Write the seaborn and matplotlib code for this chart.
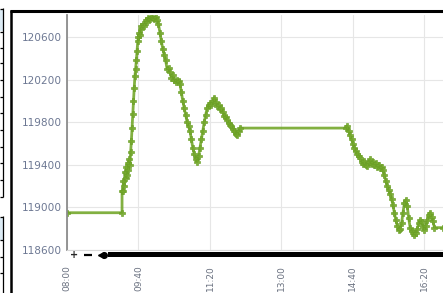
import matplotlib
matplotlib.use("Agg")
import matplotlib.pyplot as plt
from matplotlib.lines import Line2D
from matplotlib.patches import Rectangle
import seaborn as sns
import pandas as pd

# minutes after 08:00 and price values
minutes = [0, 77, 77, 78, 79, 80, 81, 82, 83, 84, 85, 86, 87, 88, 89, 90, 91, 92, 93, 94,
           95, 96, 97, 98, 99, 100, 101, 102, 103, 104, 106, 108, 110, 112, 114, 116, 118,
           120, 122, 124, 126, 128, 130, 132, 134, 136, 138, 140, 142, 144, 146, 148, 150,
           152, 154, 156, 158, 160, 162, 164, 166, 168, 170, 172, 174, 176, 178, 180, 182,
           184, 186, 188, 190, 192, 194, 196, 198, 200, 202, 204, 206, 208, 210, 212, 214,
           216, 218, 220, 222, 224, 226, 228, 230, 232, 234, 236, 238, 240, 242,
           391, 392, 394, 396, 398, 400, 402, 404, 406, 408, 410, 412, 414, 416, 418, 420,
           422, 424, 426, 428, 430, 432, 434, 436, 438, 440, 442, 444, 446, 448, 450, 452,
           454, 456, 458, 460, 462, 464, 466, 468, 470, 472, 474, 476, 478, 480, 482, 484,
           486, 488, 490, 492, 494, 496, 498, 500, 502, 504, 506, 508, 510, 512, 514, 526]
prices = [118950, 118950, 119150, 119150, 119250, 119200, 119330, 119280, 119380, 119300,
          119420, 119350, 119450, 119400, 119520, 119620, 119750, 119880, 120000, 120120,
          120230, 120300, 120380, 120470, 120560, 120600, 120640, 120620, 120680, 120700,
          120720, 120700, 120760, 120740, 120780, 120770, 120790, 120780, 120770, 120790,
          120760, 120720, 120640, 120560, 120490, 120430, 120380, 120300, 120310, 120270,
          120220, 120240, 120200, 120180, 120200, 120190, 120160, 120080, 120000, 119930,
          119870, 119800, 119760, 119720, 119640, 119560, 119500, 119450, 119430, 119480,
          119560, 119640, 119720, 119800, 119870, 119930, 119960, 119980, 119960, 120000,
          120030, 119990, 119950, 119960, 119920, 119930, 119900, 119860, 119850, 119820,
          119790, 119770, 119760, 119740, 119720, 119690, 119680, 119720, 119745,
          119745, 119760, 119720, 119680, 119640, 119600, 119560, 119530, 119500, 119480,
          119460, 119430, 119410, 119440, 119400, 119390, 119430, 119450, 119410, 119430,
          119400, 119420, 119380, 119400, 119370, 119380, 119350, 119300, 119250, 119200,
          119160, 119130, 119080, 119020, 118950, 118880, 118830, 118790, 118800, 118850,
          118950, 119040, 119070, 119010, 118900, 118810, 118780, 118760, 118740, 118760,
          118800, 118850, 118880, 118860, 118820, 118790, 118830, 118880, 118930, 118950,
          118910, 118870, 118810, 118810]

tick_minutes = [0, 100, 200, 300, 400, 500]
tick_labels = ["08:00", "09:40", "11:20", "13:00", "14:40", "16:20"]
y_ticks = [118600, 119000, 119400, 119800, 120200, 120600]

df = pd.DataFrame({"minute": minutes, "price": prices})

sns.set_style("white")
plt.rcParams["font.family"] = ["DejaVu Sans"]

W, H = 443, 293
fig = plt.figure(figsize=(W / 100, H / 100), dpi=100)
ax = fig.add_axes([67 / W, 1 - 250 / H, (443 - 67) / W, (250 - 15) / H])

sns.lineplot(data=df, x="minute", y="price", ax=ax, estimator=None, sort=False,
             color="#74a82c", linewidth=2.0, marker="P", markersize=4.6,
             markeredgewidth=0.5, markeredgecolor="#6a9f25", alpha=0.9)

ax.set_xlim(0, 526)
ax.set_ylim(118600, 120807)
ax.set_xticks(tick_minutes)
ax.set_xticklabels(tick_labels, rotation=90, fontsize=6.5, color="#6a7180")
ax.set_yticks(y_ticks)
ax.set_yticklabels([str(v) for v in y_ticks], fontsize=7.6, color="#6d7893")
ax.tick_params(axis="x", length=0, pad=11)
ax.tick_params(axis="y", length=0, pad=3.5)
ax.set_xlabel("")
ax.set_ylabel("")
ax.grid(True, color="#e6e6e6", linewidth=0.8)
ax.set_axisbelow(True)
for s in ["top", "right"]:
    ax.spines[s].set_visible(False)
ax.spines["left"].set_color("#8c8c8c")
ax.spines["left"].set_linewidth(1.3)
ax.spines["bottom"].set_color("#d8d8d8")
ax.spines["bottom"].set_linewidth(0.8)


def fx(x):
    return x / W


def fy(y):
    return 1 - y / H


def hline(x0, x1, y, lw=1.0, color="black"):
    fig.add_artist(Line2D([fx(x0), fx(x1)], [fy(y), fy(y)], transform=fig.transFigure,
                          color=color, linewidth=lw, solid_capstyle="butt"))


def vline(x, y0, y1, lw=1.0, color="black"):
    fig.add_artist(Line2D([fx(x), fx(x)], [fy(y0), fy(y1)], transform=fig.transFigure,
                          color=color, linewidth=lw, solid_capstyle="butt"))


# page frame around the chart
hline(10, 443, 11, lw=2.2)
vline(10.5, 10, 293, lw=1.8)

# fragments of the neighbouring table on the left
fig.add_artist(Rectangle((0, fy(31)), fx(3), fy(10) - fy(31), transform=fig.transFigure,
                         facecolor="#dcebf5", edgecolor="none"))
fig.add_artist(Rectangle((0, fy(240)), fx(3), fy(218) - fy(240), transform=fig.transFigure,
                         facecolor="#dcebf5", edgecolor="none"))
vline(3.3, 8, 197, lw=0.9)
vline(3.3, 216, 293, lw=0.9)
for yy in [9, 32, 48, 63, 80, 97, 113, 130, 147, 163, 180, 197]:
    hline(0, 3.3, yy, lw=0.9)
for yy in [217, 240, 257, 273]:
    hline(0, 3.3, yy, lw=0.9)

# scrollbar-like black strip under the axis
fig.add_artist(Rectangle((fx(108), fy(257)), fx(443 - 108), fy(252) - fy(257),
                         transform=fig.transFigure, facecolor="black", edgecolor="none"))
fig.text(fx(74), fy(255), "+", ha="center", va="center", fontsize=7, fontweight="bold")
hline(84, 92, 255, lw=1.6)
fig.add_artist(Line2D([fx(101)], [fy(255)], transform=fig.transFigure, marker="<",
                      markersize=5, color="black"))
fig.add_artist(Line2D([fx(104)], [fy(255)], transform=fig.transFigure, marker="o",
                      markersize=4, color="black"))

fig.savefig("out.png", dpi=100, facecolor="white")
